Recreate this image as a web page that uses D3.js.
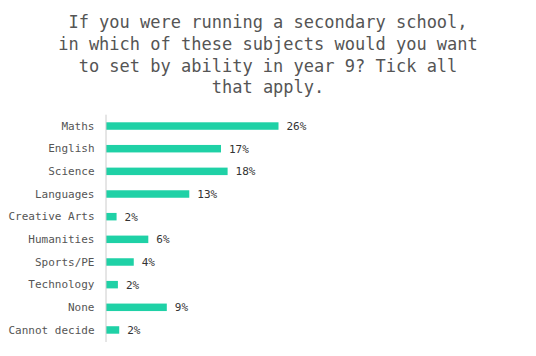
<!DOCTYPE html>
<html><head><meta charset="utf-8">
<script src="https://cdn.jsdelivr.net/npm/d3@7"></script>
<style>
html,body{margin:0;padding:0;background:#fff;}
svg{display:block;}
</style></head>
<body>
<svg id="chart" width="536" height="356"></svg>
<script>
const titleLines = ["If you were running a secondary school,", "in which of these subjects would you want", "to set by ability in year 9? Tick all", "that apply."];
const categories = ["Maths","English","Science","Languages","Creative Arts","Humanities","Sports/PE","Technology","None","Cannot decide"];
const values = [26.1, 17.4, 18.4, 12.6, 1.6, 6.4, 4.2, 1.8, 9.2, 2.0];
const valueLabels = ["26%","17%","18%","13%","2%","6%","4%","2%","9%","2%"];

const svg = d3.select("#chart");
const font = "'DejaVu Sans Mono', 'Liberation Mono', monospace";

svg.append("g").selectAll("text").data(titleLines).join("text")
  .attr("x", 268).attr("y", (d,i) => 28 + i*21.8)
  .attr("text-anchor","middle")
  .attr("font-family", font).attr("font-size", 17)
  .attr("fill", "#555").text(d => d);

const x0 = 105.5;
const x = d3.scaleLinear().domain([0, 26.1]).range([x0, x0 + 172.5]);
const y = d3.scaleBand().domain(categories).range([114.7, 341.3]).paddingInner(0.67).paddingOuter(0.335);

const g = svg.append("g");
g.selectAll("rect").data(categories).join("rect")
  .attr("x", x(0) + 0.5)
  .attr("y", d => y(d))
  .attr("width", (d,i) => x(values[i]) - x(0))
  .attr("height", y.bandwidth())
  .attr("fill", "#1fd1a6");

const axis = d3.axisLeft(y).tickSize(0).tickPadding(11);
const ag = svg.append("g").attr("transform", `translate(${x0},0)`).call(axis);
ag.select(".domain").attr("stroke", "#ccc").attr("stroke-width", 1).attr("d", `M0.5,${114.7}V${342}`);
ag.selectAll("text").attr("font-family", font).attr("font-size", 11).attr("fill", "#555");

g.selectAll("text.val").data(categories).join("text").attr("class","val")
  .attr("x", (d,i) => x(values[i]) + 8.5)
  .attr("y", d => y(d) + y.bandwidth()/2)
  .attr("dy", "0.35em")
  .attr("font-family", font).attr("font-size", 11).attr("fill", "#333")
  .text((d,i) => valueLabels[i]);
</script>
</body></html>
